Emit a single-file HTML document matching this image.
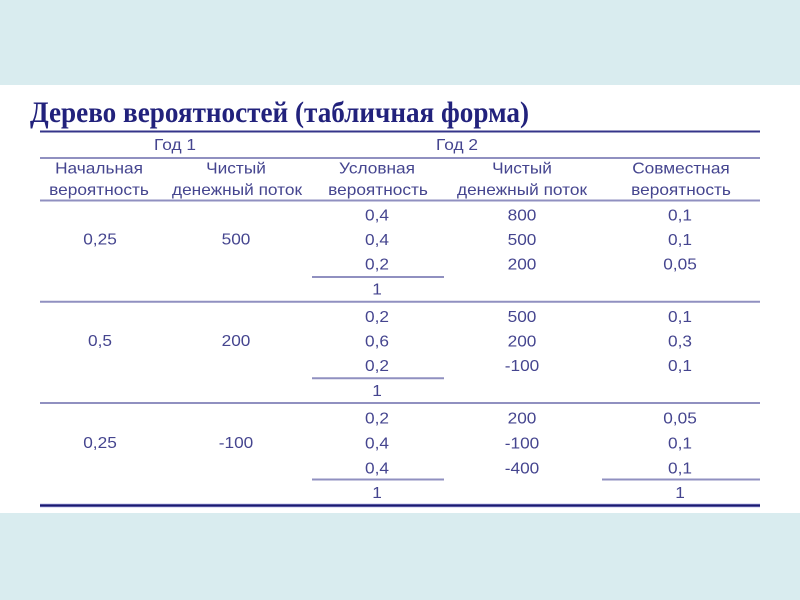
<!DOCTYPE html>
<html><head><meta charset="utf-8"><style>
html,body{margin:0;padding:0;background:#fff;}
svg{display:block;}
.t{font-family:"Liberation Sans","DejaVu Sans",sans-serif;font-size:16px;fill:#45458f;text-anchor:middle;}
.h{font-family:"Liberation Serif","DejaVu Serif",serif;font-weight:bold;font-size:30px;fill:#22227c;}
</style></head><body>
<svg width="800" height="600" viewBox="0 0 800 600" xmlns="http://www.w3.org/2000/svg">
<rect x="0" y="0" width="800" height="600" fill="#d9ecef"/>
<rect x="0" y="85" width="800" height="428" fill="#ffffff"/>
<text class="h" x="30" y="122" textLength="499" lengthAdjust="spacingAndGlyphs">Дерево вероятностей (табличная форма)</text>
<line x1="40" y1="131.5" x2="760" y2="131.5" stroke="#35358a" stroke-width="2"/>
<line x1="40" y1="158" x2="760" y2="158" stroke="#9090c0" stroke-width="2"/>
<line x1="40" y1="200.5" x2="760" y2="200.5" stroke="#9090c0" stroke-width="2"/>
<line x1="40" y1="301.7" x2="760" y2="301.7" stroke="#9090c0" stroke-width="2"/>
<line x1="40" y1="403" x2="760" y2="403" stroke="#9090c0" stroke-width="2"/>
<line x1="312" y1="277" x2="444" y2="277" stroke="#9090c0" stroke-width="2"/>
<line x1="312" y1="378.2" x2="444" y2="378.2" stroke="#9090c0" stroke-width="2"/>
<line x1="312" y1="479.5" x2="444" y2="479.5" stroke="#9090c0" stroke-width="2"/>
<line x1="602" y1="479.5" x2="760" y2="479.5" stroke="#9090c0" stroke-width="2"/>
<line x1="40" y1="505.5" x2="760" y2="505.5" stroke="#8a8ad0" stroke-width="3.5"/>
<line x1="40" y1="505.5" x2="760" y2="505.5" stroke="#1a1a6e" stroke-width="2"/>

<g>
<text class="t" transform="translate(175,150) scale(1.08,1)">Год 1</text>
<text class="t" transform="translate(457,150) scale(1.08,1)">Год 2</text>

<text class="t" transform="translate(99,173.5) scale(1.08,1)">Начальная</text>
<text class="t" transform="translate(99,195) scale(1.08,1)">вероятность</text>
<text class="t" transform="translate(236,173.5) scale(1.08,1)">Чистый</text>
<text class="t" transform="translate(237,195) scale(1.08,1)">денежный поток</text>
<text class="t" transform="translate(377,173.5) scale(1.08,1)">Условная</text>
<text class="t" transform="translate(378,195) scale(1.08,1)">вероятность</text>
<text class="t" transform="translate(522,173.5) scale(1.08,1)">Чистый</text>
<text class="t" transform="translate(522,195) scale(1.08,1)">денежный поток</text>
<text class="t" transform="translate(681,173.5) scale(1.08,1)">Совместная</text>
<text class="t" transform="translate(681,195) scale(1.08,1)">вероятность</text>

<!-- group 1 -->
<text class="t" transform="translate(100,244.5) scale(1.08,1)">0,25</text>
<text class="t" transform="translate(236,244.5) scale(1.08,1)">500</text>
<text class="t" transform="translate(377,220.7) scale(1.08,1)">0,4</text>
<text class="t" transform="translate(377,245) scale(1.08,1)">0,4</text>
<text class="t" transform="translate(377,269.5) scale(1.08,1)">0,2</text>
<text class="t" transform="translate(377,294.3) scale(1.08,1)">1</text>
<text class="t" transform="translate(522,220.7) scale(1.08,1)">800</text>
<text class="t" transform="translate(522,245) scale(1.08,1)">500</text>
<text class="t" transform="translate(522,269.5) scale(1.08,1)">200</text>
<text class="t" transform="translate(680,220.7) scale(1.08,1)">0,1</text>
<text class="t" transform="translate(680,245) scale(1.08,1)">0,1</text>
<text class="t" transform="translate(680,269.5) scale(1.08,1)">0,05</text>

<!-- group 2 -->
<text class="t" transform="translate(100,346) scale(1.08,1)">0,5</text>
<text class="t" transform="translate(236,346) scale(1.08,1)">200</text>
<text class="t" transform="translate(377,322) scale(1.08,1)">0,2</text>
<text class="t" transform="translate(377,346.5) scale(1.08,1)">0,6</text>
<text class="t" transform="translate(377,371) scale(1.08,1)">0,2</text>
<text class="t" transform="translate(377,395.8) scale(1.08,1)">1</text>
<text class="t" transform="translate(522,322) scale(1.08,1)">500</text>
<text class="t" transform="translate(522,346.5) scale(1.08,1)">200</text>
<text class="t" transform="translate(522,371) scale(1.08,1)">-100</text>
<text class="t" transform="translate(680,322) scale(1.08,1)">0,1</text>
<text class="t" transform="translate(680,346.5) scale(1.08,1)">0,3</text>
<text class="t" transform="translate(680,371) scale(1.08,1)">0,1</text>

<!-- group 3 -->
<text class="t" transform="translate(100,448) scale(1.08,1)">0,25</text>
<text class="t" transform="translate(236,448) scale(1.08,1)">-100</text>
<text class="t" transform="translate(377,423.5) scale(1.08,1)">0,2</text>
<text class="t" transform="translate(377,448.5) scale(1.08,1)">0,4</text>
<text class="t" transform="translate(377,473.5) scale(1.08,1)">0,4</text>
<text class="t" transform="translate(377,498) scale(1.08,1)">1</text>
<text class="t" transform="translate(522,423.5) scale(1.08,1)">200</text>
<text class="t" transform="translate(522,448.5) scale(1.08,1)">-100</text>
<text class="t" transform="translate(522,473.5) scale(1.08,1)">-400</text>
<text class="t" transform="translate(680,423.5) scale(1.08,1)">0,05</text>
<text class="t" transform="translate(680,448.5) scale(1.08,1)">0,1</text>
<text class="t" transform="translate(680,473.5) scale(1.08,1)">0,1</text>
<text class="t" transform="translate(680,498) scale(1.08,1)">1</text>
</g>
</svg>
</body></html>
